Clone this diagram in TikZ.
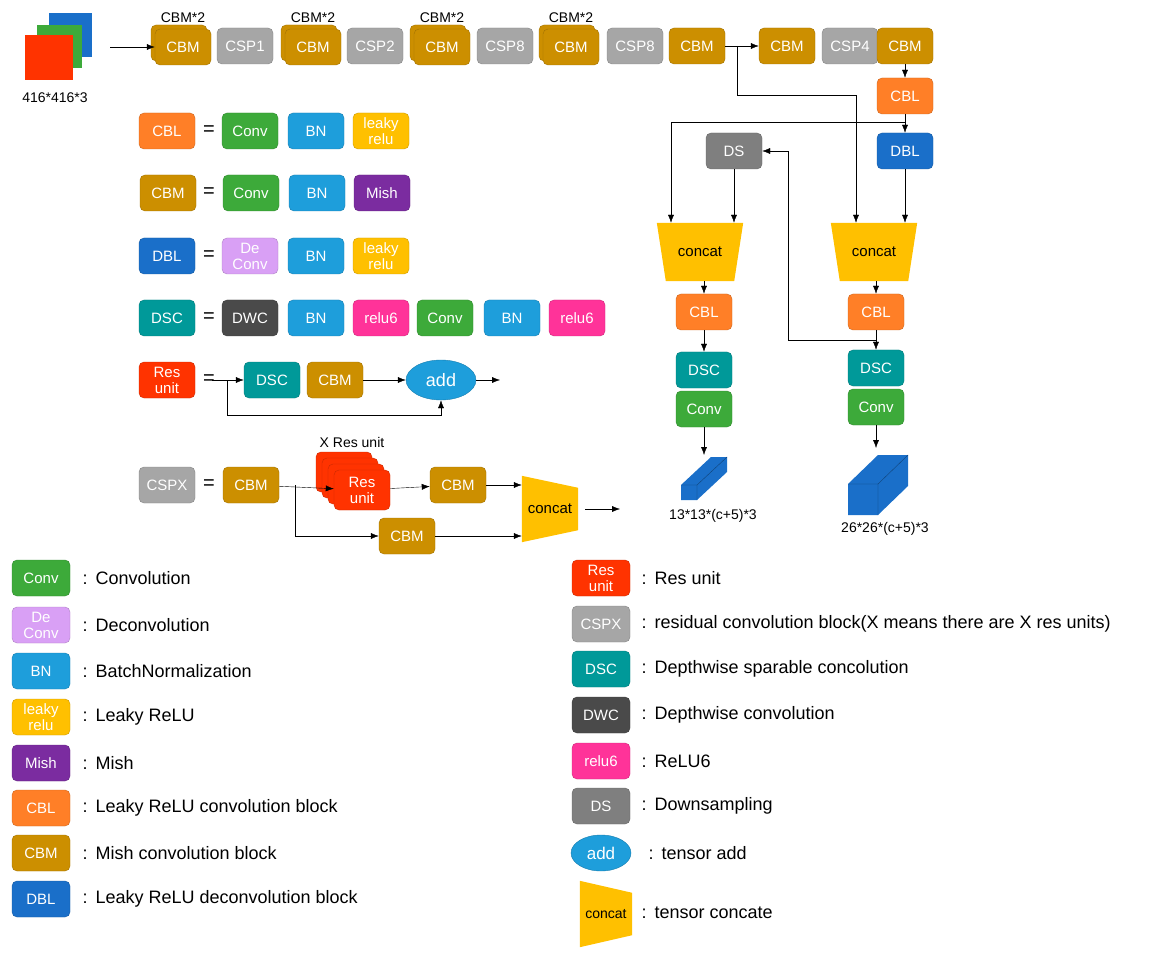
\documentclass[tikz,border=0pt]{standalone}
\usepackage{fontspec}
\setmainfont{Liberation Sans}
\usetikzlibrary{calc,arrows.meta,positioning,shapes.geometric}
\definecolor{cbmc}{HTML}{CC8F00}
\definecolor{cspc}{HTML}{A6A6A6}
\definecolor{cblc}{HTML}{FF7F27}
\definecolor{dblc}{HTML}{1A6FC9}
\definecolor{convc}{HTML}{3DAA3A}
\definecolor{bnc}{HTML}{1E9EDB}
\definecolor{leakc}{HTML}{FFC000}
\definecolor{mishc}{HTML}{7B2CA0}
\definecolor{dconvc}{HTML}{D9A0F5}
\definecolor{dscc}{HTML}{009999}
\definecolor{dwcc}{HTML}{4A4A4A}
\definecolor{reluc}{HTML}{FF3399}
\definecolor{resc}{HTML}{FF3300}
\definecolor{dsc}{HTML}{7F7F7F}
\begin{document}
\begin{tikzpicture}[x=1pt,y=-1pt,>={Latex[length=8pt,width=6pt]},
    box/.style={rounded corners=5pt, minimum width=56pt, minimum height=36pt, inner sep=1pt,
        text=white, align=center, font=\fontsize{15}{16}\selectfont, draw=#1!80!black, fill=#1},
    lbl/.style={font=\fontsize{14}{16}\selectfont},
    leg/.style={font=\fontsize{18}{20}\selectfont, anchor=west},
    eq/.style={font=\fontsize{20}{20}\selectfont},
    hole/.style={minimum width=86pt, minimum height=58pt, inner sep=0pt, font=\fontsize{15}{16}\selectfont}]
    \useasboundingbox (0,0) rectangle (1164,957);

    % input image
    \fill[dblc] (49,13) rectangle (92,57);
    \fill[convc] (37,25) rectangle (82,68);
    \fill[resc] (25,35) rectangle (73,80);
    \node[lbl] (isize) at (55,98) {416*416*3};
    \coordinate (imgout) at (110,47);

    % backbone
    \foreach \x/\n in {183/a,313/b,442/c,571/d}{
        \node[box=cbmc] at (\x-4,43) {};
        \node[box=cbmc] (cbm\n) at (\x,47) {CBM};
        \node[lbl] at (\x,18) {CBM*2};
    }
    \node[box=cspc] (csp1) at (245,46) {CSP1};
    \node[box=cspc] (csp2) at (375,46) {CSP2};
    \node[box=cspc] (csp3) at (505,46) {CSP8};
    \node[box=cspc] (csp4) at (635,46) {CSP8};
    \node[box=cbmc] (cbme) at (697,46) {CBM};
    \node[box=cbmc] (cbmf) at (787,46) {CBM};
    \node[box=cspc] (csp5) at (850,46) {CSP4};
    \node[box=cbmc] (cbmg) at (905,46) {CBM};
    \draw[->] (imgout) -- (cbma.west);
    \draw[->] (cbme) -- (cbmf);
    \coordinate (br1) at (737,46);

    % neck and heads
    \node[box=cblc] (cbl0) at (905,96) {CBL};
    \node[box=dblc] (dbl) at (905,151) {DBL};
    \node[box=dsc] (ds) at (734,151) {DS};
    \node[hole] (cc1) at (700,252) {concat};
    \node[hole] (cc2) at (874,252) {concat};
    \foreach \c in {cc1,cc2}
        \fill[leakc] (\c.north west) -- (\c.north east) -- ($(\c.south east)+(-9,0)$) -- ($(\c.south west)+(9,0)$) -- cycle;
    \node[hole] at (cc1) {concat};
    \node[hole] at (cc2) {concat};
    \node[box=cblc] (cbl1) at (704,312) {CBL};
    \node[box=dscc] (dsc1) at (704,370) {DSC};
    \node[box=convc] (conv1) at (704,409) {Conv};
    \node[box=cblc] (cbl2) at (876,312) {CBL};
    \node[box=dscc] (dsc2) at (876,368) {DSC};
    \node[box=convc] (conv2) at (876,407) {Conv};
    \draw[->] (cbmg) -- (cbl0);
    \draw[->] (cbl0) -- (dbl);
    \draw[->] (br1) -- (br1 |- 0,95) -| ($(cc2.north)+(-18,0)$);
    \draw[->] ($(cbl0.south)+(0,8)$) -| ($(cc1.north)+(-29,0)$);
    \draw[->] (ds) -- (ds |- cc1.north);
    \draw[->] (dbl) -- (dbl |- cc2.north);
    \draw[->] (cc1.south -| cbl1) -- (cbl1);
    \draw[->] (cc2.south -| cbl2) -- (cbl2);
    \draw[->] (cbl1) -- (dsc1);
    \draw[->] (cbl2) -- (dsc2);
    \draw[->] ($(cbl2.south)+(0,10)$) -| ($(ds.east)+(26,0)$) -- (ds.east);

    % output tensors
    \coordinate (out1) at (704,455);
    \coordinate (out2) at (876,448);
    \draw[->] (conv1) -- (out1);
    \draw[->] (conv2) -- (out2);
    \fill[dblc] (681,485) -- (711,457) -- (727,457) -- (727,472) -- (697,500) -- (681,500) -- cycle;
    \draw[dblc!60!black] (681,485) -- (697,485) -- (727,457) (697,485) -- (697,500);
    \fill[dblc] (848,484) -- (878,455) -- (908,455) -- (908,486) -- (878,515) -- (848,515) -- cycle;
    \draw[dblc!60!black] (848,484) -- (878,484) -- (908,455) (878,484) -- (878,515);
    \node[lbl] (osize1) at (713,516) {13*13*(c+5)*3};
    \node[lbl] (osize2) at (885,529) {26*26*(c+5)*3};

    % block definitions
    \node[box=cblc] (dcbl) at (167,131) {CBL};
    \node[eq] at (209,131) {=};
    \node[box=convc] at (250,131) {Conv};
    \node[box=bnc] at (316,131) {BN};
    \node[box=leakc] at (381,131) {leaky\\relu};
    \node[box=cbmc] (dcbm) at (168,193) {CBM};
    \node[eq] at (209,193) {=};
    \node[box=convc] at (251,193) {Conv};
    \node[box=bnc] at (317,193) {BN};
    \node[box=mishc] at (382,193) {Mish};
    \node[box=dblc] (ddbl) at (167,256) {DBL};
    \node[eq] at (209,256) {=};
    \node[box=dconvc] at (250,256) {De\\Conv};
    \node[box=bnc] at (316,256) {BN};
    \node[box=leakc] at (381,256) {leaky\\relu};
    \node[box=dscc] (ddsc) at (167,318) {DSC};
    \node[eq] at (209,318) {=};
    \node[box=dwcc] at (250,318) {DWC};
    \node[box=bnc] at (316,318) {BN};
    \node[box=reluc] at (381,318) {relu6};
    \node[box=convc] at (445,318) {Conv};
    \node[box=bnc] at (512,318) {BN};
    \node[box=reluc] at (577,318) {relu6};

    % res unit
    \node[box=resc] (dres) at (167,380) {Res\\unit};
    \node[eq] at (209,380) {=};
    \coordinate (rin) at (212,380);
    \node[box=dscc] (rdsc) at (272,380) {DSC};
    \node[box=cbmc] (rcbm) at (335,380) {CBM};
    \node[ellipse, fill=bnc, draw=bnc!80!black, minimum width=70pt, minimum height=40pt, text=white,
        font=\fontsize{18}{18}\selectfont] (add) at (441,380) {add};
    \coordinate (rout) at (500,380);
    \draw[->] (rin) -- (rdsc);
    \draw[->] (rcbm) -- (add);
    \draw[->] (add) -- (rout);
    \draw[->] (227,380) |- (0,415 -| add) -- (add.south);

    % cspx
    \node[box=cspc] (dcsp) at (167,485) {CSPX};
    \node[eq] at (209,485) {=};
    \node[box=cbmc] (xcbm1) at (251,485) {CBM};
    \foreach \k in {3,2,1}
        \node[box=resc, minimum height=40pt] at (362-6*\k,490-6*\k) {};
    \node[box=resc, minimum height=40pt] (xres) at (362,490) {Res\\unit};
    \node[lbl] at (352,442) {X Res unit};
    \node[box=cbmc] (xcbm2) at (458,485) {CBM};
    \node[box=cbmc] (xcbm3) at (407,536) {CBM};
    \node[minimum width=56pt, minimum height=66pt, inner sep=0pt] (xcc) at (550,509) {};
    \fill[leakc] (xcc.north west) -- ($(xcc.north east)+(0,12)$) -- ($(xcc.south east)+(0,-12)$) -- (xcc.south west) -- cycle;
    \node[font=\fontsize{15}{16}\selectfont] at (xcc) {concat};
    \coordinate (xout) at (620,509);
    \draw[->] (xcbm1) -- (xres);
    \draw[->] (xres) -- (xcbm2);
    \draw[->] (xcbm2) -- (xcbm2 -| xcc.west);
    \draw[->] (295,485) |- (xcbm3);
    \draw[->] (xcbm3) -- (xcbm3 -| xcc.west);
    \draw[->] (xcc) ++(35,0) -- (xout);

    % legend, left column
    \foreach \t/\c/\d/\y in {Conv/convc/Convolution/578, De\\Conv/dconvc/Deconvolution/625,
        BN/bnc/BatchNormalization/671, leaky\\relu/leakc/Leaky ReLU/717, Mish/mishc/Mish/763,
        CBL/cblc/Leaky ReLU convolution block/808, CBM/cbmc/Mish convolution block/853,
        DBL/dblc/Leaky ReLU deconvolution block/899}{
        \node[box=\c, minimum width=58pt] at (41,\y) {\t};
        \node[leg] at (79,\y) {:\hspace{8pt}\d};
    }
    % legend, right column
    \foreach \t/\c/\d/\y in {Res\\unit/resc/Res unit/578,
        CSPX/cspc/residual convolution block(X means there are X res units)/624,
        DSC/dscc/Depthwise sparable concolution/669, DWC/dwcc/Depthwise convolution/715,
        relu6/reluc/ReLU6/761, DS/dsc/Downsampling/806}{
        \node[box=\c, minimum width=58pt] at (601,\y) {\t};
        \node[leg] at (638,\y) {:\hspace{8pt}\d};
    }
    \node[ellipse, fill=bnc, draw=bnc!80!black, minimum width=60pt, minimum height=36pt, text=white,
        font=\fontsize{17}{17}\selectfont] (ladd) at (601,853) {add};
    \node[leg] at (645,853) {:\hspace{8pt}tensor add};
    \node[minimum width=52pt, minimum height=66pt, inner sep=0pt] (lcc) at (606,914) {};
    \fill[leakc] (lcc.north west) -- ($(lcc.north east)+(0,12)$) -- ($(lcc.south east)+(0,-12)$) -- (lcc.south west) -- cycle;
    \node[font=\fontsize{14}{16}\selectfont] at (lcc) {concat};
    \node[leg] at (638,913) {:\hspace{8pt}tensor concate};
\end{tikzpicture}
\end{document}
